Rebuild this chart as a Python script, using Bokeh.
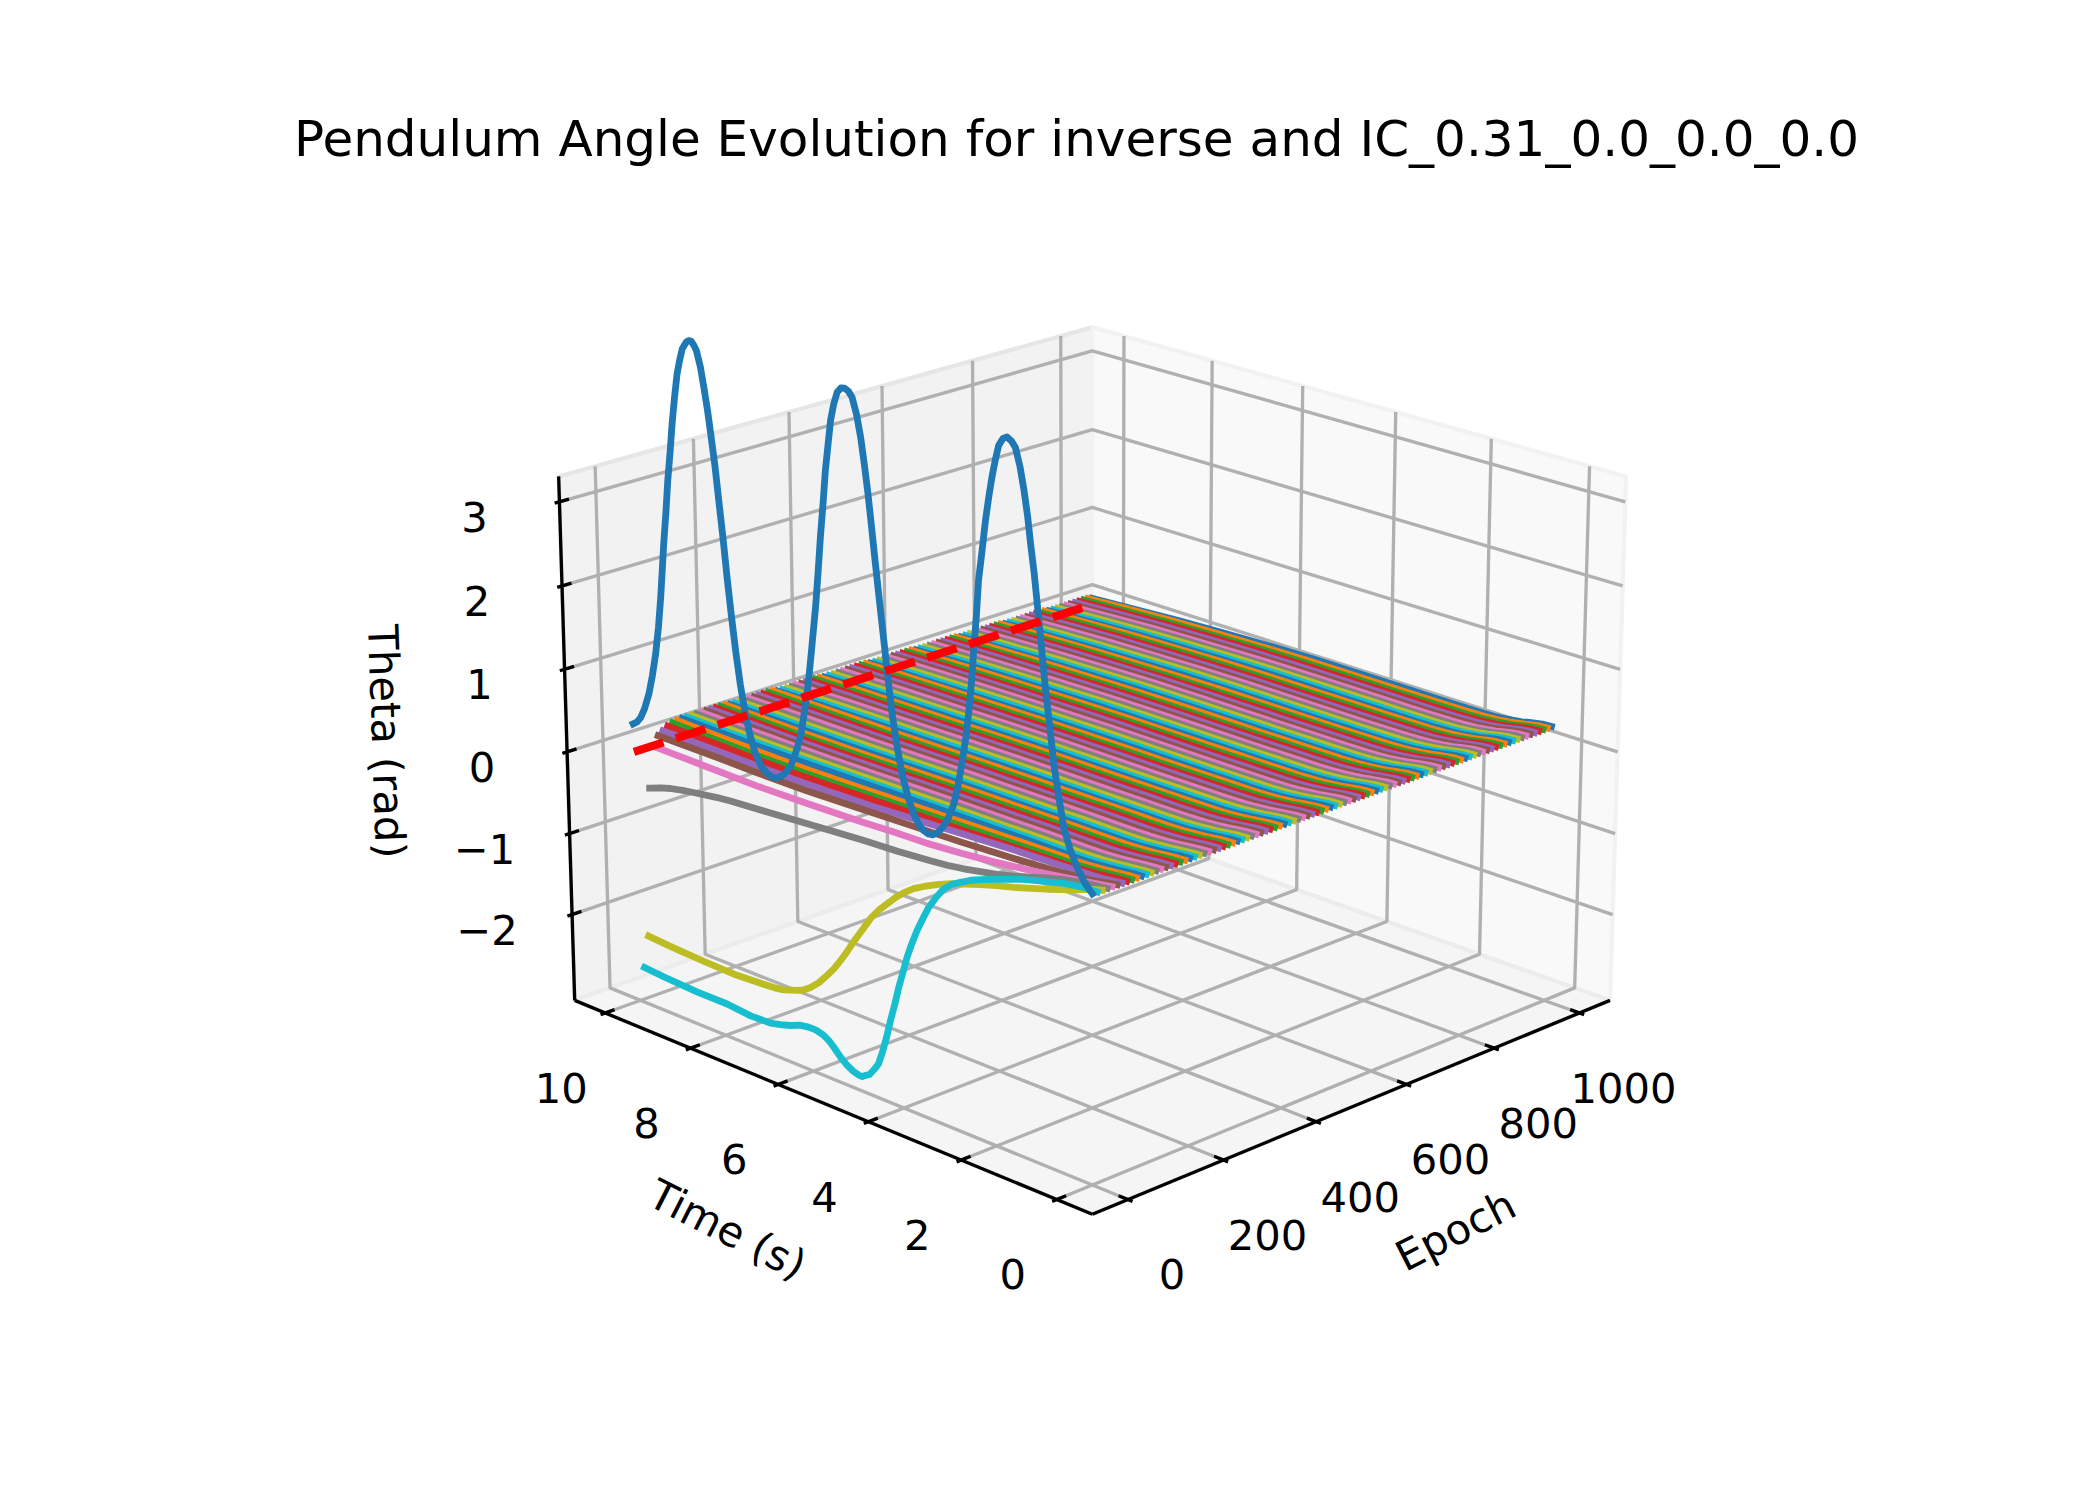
import math
from bokeh.plotting import figure
from bokeh.embed import file_html
from bokeh.resources import INLINE
from bokeh.models import Range1d
from bokeh.core.properties import value

TITLE = "Pendulum Angle Evolution for inverse and IC_0.31_0.0_0.0_0.0"
epoch_ticks = [0, 200, 400, 600, 800, 1000]
time_ticks = [0, 2, 4, 6, 8, 10]
theta_ticks = [-2, -1, 0, 1, 2, 3]
theta_tick_labels = ["\u22122", "\u22121", "0", "1", "2", "3"]
tab10 = ["#1f77b4", "#ff7f0e", "#2ca02c", "#d62728", "#9467bd",
         "#8c564b", "#e377c2", "#7f7f7f", "#bcbd22", "#17becf"]

# epoch 0
t_e0 = [10.0, 9.91, 9.82, 9.72, 9.61, 9.52, 9.43, 9.35, 9.28, 9.23, 9.18, 9.11, 9.05, 8.98, 8.92, 8.85,
        8.78, 8.71, 8.65, 8.56, 8.50, 8.44, 8.38, 8.33, 8.25, 8.18, 8.11, 8.05, 7.97, 7.90, 7.82, 7.75,
        7.67, 7.59, 7.50, 7.40, 7.30, 7.19, 7.06, 6.93, 6.82, 6.71, 6.56, 6.41, 6.29, 6.17, 6.07, 5.97,
        5.88, 5.79, 5.72, 5.66, 5.59, 5.53, 5.46, 5.40, 5.33, 5.25, 5.17, 5.09, 5.01, 4.93, 4.84, 4.76,
        4.69, 4.62, 4.55, 4.48, 4.40, 4.32, 4.24, 4.16, 4.06, 3.96, 3.84, 3.72, 3.61, 3.51, 3.41, 3.31,
        3.19, 3.08, 2.97, 2.86, 2.77, 2.68, 2.60, 2.53, 2.47, 2.42, 2.36, 2.31, 2.23, 2.16, 2.09, 2.02,
        1.95, 1.88, 1.79, 1.71, 1.62, 1.54, 1.45, 1.37, 1.30, 1.24, 1.17, 1.11, 1.03, 0.95, 0.86, 0.78,
        0.68, 0.58, 0.45, 0.31, 0.15, 0.0]
th_e0 = [0.34, 0.38, 0.45, 0.58, 0.78, 1.01, 1.29, 1.62, 1.99, 2.31, 2.64, 3.03, 3.41, 3.76, 4.09, 4.41,
         4.69, 4.87, 5.00, 5.09, 5.12, 5.12, 5.08, 5.03, 4.86, 4.63, 4.38, 4.12, 3.76, 3.37, 2.93, 2.50,
         2.06, 1.66, 1.28, 0.95, 0.71, 0.52, 0.39, 0.33, 0.31, 0.32, 0.39, 0.51, 0.69, 0.91, 1.24, 1.61,
         2.05, 2.50, 2.93, 3.33, 3.73, 4.11, 4.43, 4.70, 4.89, 5.04, 5.10, 5.11, 5.09, 5.03, 4.85, 4.61,
         4.32, 4.00, 3.62, 3.23, 2.80, 2.38, 1.96, 1.56, 1.20, 0.90, 0.66, 0.48, 0.38, 0.33, 0.31, 0.32,
         0.38, 0.47, 0.60, 0.77, 1.00, 1.28, 1.58, 1.90, 2.25, 2.61, 3.01, 3.42, 3.78, 4.11, 4.38, 4.62,
         4.82, 4.99, 5.08, 5.11, 5.08, 5.02, 4.83, 4.58, 4.31, 4.01, 3.70, 3.37, 2.92, 2.46, 2.03, 1.63,
         1.27, 0.95, 0.72, 0.55, 0.40, 0.31]
# epoch 10
t_e10 = [10.0, 9.55, 8.77, 8.07, 7.53, 7.08, 6.85, 6.62, 6.41, 6.21, 6.05, 5.90, 5.77, 5.65, 5.50, 5.35,
         5.22, 5.10, 5.02, 4.95, 4.86, 4.76, 4.66, 4.57, 4.47, 4.38, 4.28, 4.19, 4.09, 4.00, 3.89, 3.78,
         3.65, 3.52, 3.36, 3.20, 3.02, 2.84, 2.62, 2.41, 2.13, 1.85, 1.54, 1.23, 0.95, 0.68, 0.35, 0.0]
th_e10 = [-2.68, -2.70, -2.72, -2.72, -2.75, -2.74, -2.71, -2.67, -2.62, -2.60, -2.60, -2.62, -2.66, -2.72, -2.81, -2.88,
          -2.92, -2.94, -2.94, -2.91, -2.88, -2.80, -2.71, -2.55, -2.34, -2.12, -1.90, -1.68, -1.47, -1.28, -1.09, -0.92,
          -0.75, -0.59, -0.44, -0.31, -0.22, -0.16, -0.09, -0.04, 0.02, 0.08, 0.14, 0.19, 0.23, 0.27, 0.30, 0.31]
# epoch 20
t_e20 = [10.0, 9.49, 8.71, 7.94, 7.33, 7.08, 6.87, 6.72, 6.56, 6.41, 6.26, 6.07, 5.88, 5.73, 5.58, 5.43,
         5.28, 5.09, 4.90, 4.71, 4.53, 4.35, 4.16, 3.95, 3.73, 3.45, 3.16, 2.84, 2.52, 2.17, 1.82, 1.47,
         1.13, 0.82, 0.51, 0.25, 0.0]
th_e20 = [-2.31, -2.33, -2.35, -2.36, -2.34, -2.33, -2.31, -2.28, -2.25, -2.21, -2.15, -2.05, -1.92, -1.81, -1.68, -1.54,
          -1.39, -1.21, -1.03, -0.89, -0.78, -0.67, -0.57, -0.48, -0.41, -0.33, -0.26, -0.20, -0.14, -0.08, -0.03, 0.03,
          0.09, 0.15, 0.21, 0.27, 0.31]
# epoch 30
t_e30 = [10.0, 9.75, 9.51, 9.15, 8.81, 8.45, 8.12, 7.36, 6.61, 5.87, 5.13, 4.40, 3.69, 3.33, 2.98, 2.62,
         2.27, 1.92, 1.57, 1.23, 0.89, 0.45, 0.0]
th_e30 = [-0.50, -0.45, -0.41, -0.37, -0.34, -0.31, -0.29, -0.26, -0.23, -0.20, -0.17, -0.15, -0.12, -0.10, -0.07, -0.03,
          0.01, 0.06, 0.12, 0.18, 0.23, 0.28, 0.31]
# epoch 40
t_e40 = [10.0, 8.75, 7.61, 6.49, 5.31, 4.58, 3.86, 3.15, 2.44, 1.74, 1.05, 0.51, 0.0]
th_e40 = [-0.01, -0.02, -0.03, -0.02, 0.00, 0.02, 0.03, 0.06, 0.10, 0.15, 0.21, 0.26, 0.31]
# epoch 50
t_e50 = [10.0, 8.86, 7.72, 6.59, 5.41, 4.32, 3.25, 2.19, 1.15, 0.48, 0.0]
th_e50 = [0.10, 0.10, 0.09, 0.09, 0.11, 0.13, 0.15, 0.18, 0.22, 0.26, 0.31]
# epoch 60
t_e60 = [10.0, 8.97, 7.83, 6.70, 5.23, 3.35, 2.30, 1.26, 0.43, 0.0]
th_e60 = [0.14, 0.14, 0.13, 0.13, 0.15, 0.21, 0.24, 0.26, 0.28, 0.31]

# later epochs, on a shared time grid
t_late = [0, .15, .3, .45, .6, .8, 1.0, 1.2, 1.5, 1.9, 2.4, 3, 4, 5, 6, 7, 8, 9, 10]
th_e70 = [.310, .305, .295, .285, .275, .265, .257, .250, .245, .240, .232, .220, .205, .190, .175, .165, .168, .178, .180]
th_e80 = [.310, .305, .295, .285, .275, .265, .257, .250, .247, .243, .237, .226, .212, .198, .183, .173, .176, .186, .200]
th_e90 = [.310, .305, .295, .285, .275, .265, .257, .252, .250, .247, .242, .232, .220, .208, .195, .185, .188, .198, .210]
# one row per 100 epochs, from 100 to 1000
th_late = [
    [.310, .305, .295, .285, .275, .265, .257, .252, .250, .250, .250, .245, .240, .232, .222, .213, .210, .212, .215],
    [.310, .305, .295, .284, .273, .262, .253, .248, .245, .245, .245, .240, .235, .230, .220, .211, .207, .205, .200],
    [.310, .305, .294, .282, .270, .258, .248, .242, .238, .236, .235, .232, .230, .226, .218, .208, .200, .192, .180],
    [.310, .305, .294, .281, .268, .255, .244, .237, .232, .230, .228, .225, .224, .222, .214, .204, .195, .183, .170],
    [.310, .305, .293, .279, .265, .251, .239, .232, .226, .224, .222, .220, .219, .218, .210, .199, .188, .172, .155],
    [.310, .305, .292, .278, .262, .247, .235, .227, .220, .218, .216, .214, .213, .212, .206, .194, .180, .162, .140],
    [.310, .305, .292, .276, .259, .243, .230, .221, .215, .212, .210, .208, .207, .207, .201, .188, .172, .150, .125],
    [.310, .305, .291, .274, .256, .239, .225, .216, .209, .206, .204, .203, .203, .203, .196, .182, .165, .140, .110],
    [.310, .305, .291, .272, .253, .235, .220, .211, .204, .200, .199, .199, .199, .199, .191, .176, .157, .128, .095],
    [.310, .305, .290, .272, .252, .234, .220, .208, .204, .203, .203, .204, .206, .206, .195, .175, .150, .115, .080],
]
epochs = list(range(0, 1001, 10))
target_epochs = [0, 1000]
target_time = [10, 10]
target_theta = [0, 0]

# Matplotlib-style perspective view: elevation 20, azimuth 225
xl = (-50 - 1100 / 48, 1050 + 1100 / 48)
yl = (-.5 - 11 / 48, 10.5 + 11 / 48)
zl = (-3.07, 3.30)
f = 1.8294640721620434 * 25 / 24 / math.sqrt(41)
A = (4 * f, 4 * f, 3 * f)
R = [a / 2 for a in A]
el, az = math.radians(20), math.radians(225)
w = (math.cos(el) * math.cos(az), math.cos(el) * math.sin(az), math.sin(el))
n = math.hypot(w[0], w[1])
u = (-w[1] / n, w[0] / n, 0)
v = (w[1] * u[2] - w[2] * u[1], w[2] * u[0] - w[0] * u[2], w[0] * u[1] - w[1] * u[0])

def proj(e, t, z):
    q = [A[0] * (e - xl[0]) / (xl[1] - xl[0]) - R[0],
         A[1] * (t - yl[0]) / (yl[1] - yl[0]) - R[1],
         A[2] * (z - zl[0]) / (zl[1] - zl[0]) - R[2]]
    d = 10 - sum(a * b for a, b in zip(w, q))
    X = sum(a * b for a, b in zip(u, q)) / d
    Y = sum(a * b for a, b in zip(v, q)) / d
    return 498.75 + (X + .095) / .185 * 1155, 1335 - (Y + .095) / .185 * 1155

def seg(pts):
    P = [proj(*q) for q in pts]
    return [a for a, _ in P], [b for _, b in P]

p = figure(width=2092, height=1492, x_range=Range1d(0, 2092), y_range=Range1d(1492, 0),
           output_backend="svg", toolbar_location=None, min_border=0,
           outline_line_color=None, background_fill_color="white", border_fill_color="white")
p.axis.visible = False
p.grid.visible = False

x0, x1, y0, y1, z0, z1 = xl[0], xl[1], yl[0], yl[1], zl[0], zl[1]
panes = [
    ([(x0, y1, z0), (x1, y1, z0), (x1, y1, z1), (x0, y1, z1)], "#f2f2f2", "#e6e6e6"),
    ([(x1, y0, z0), (x1, y1, z0), (x1, y1, z1), (x1, y0, z1)], "#f9f9f9", "#f2f2f2"),
    ([(x0, y0, z0), (x1, y0, z0), (x1, y1, z0), (x0, y1, z0)], "#f5f5f5", "#ececec"),
]
for pts, fc, lc in panes:
    a, b = seg(pts)
    p.patch(a, b, fill_color=fc, line_color=lc, line_width=4.2)

GRID = dict(line_color="#b0b0b0", line_width=3.33)
for e in epoch_ticks:
    a, b = seg([(e, y0, z0), (e, y1, z0), (e, y1, z1)])
    p.line(a, b, **GRID)
for t in time_ticks:
    a, b = seg([(x0, t, z0), (x1, t, z0), (x1, t, z1)])
    p.line(a, b, **GRID)
for z in theta_ticks:
    a, b = seg([(x0, y1, z), (x1, y1, z), (x1, y0, z)])
    p.line(a, b, **GRID)

AX = dict(line_color="black", line_width=3.33)
for pts in ([(x0, y0, z0), (x1, y0, z0)], [(x0, y0, z0), (x0, y1, z0)], [(x0, y1, z0), (x0, y1, z1)]):
    a, b = seg(pts)
    p.line(a, b, **AX)
dx, dy = (x1 - x0) / 12, (y1 - y0) / 12
for e in epoch_ticks:
    a, b = seg([(e, y0 + .2 * dy, z0), (e, y0 - .1 * dy, z0)])
    p.line(a, b, **AX)
for t in time_ticks:
    a, b = seg([(x0 + .2 * dx, t, z0), (x0 - .1 * dx, t, z0)])
    p.line(a, b, **AX)
for z in theta_ticks:
    a, b = seg([(x0 + .2 * dx, y1, z), (x0 - .1 * dx, y1, z)])
    p.line(a, b, **AX)

def curve(k):
    e = epochs[k]
    if k <= 6:
        T = [t_e0, t_e10, t_e20, t_e30, t_e40, t_e50, t_e60][k]
        H = [th_e0, th_e10, th_e20, th_e30, th_e40, th_e50, th_e60][k]
    elif k <= 9:
        T, H = t_late, [th_e70, th_e80, th_e90][k - 7]
    else:
        T, H = t_late, th_late[min(k // 10, 10) - 1]
    return [proj(e, t, z) for t, z in zip(T, H)]

n_lines = len(epochs)
for i, k in enumerate(reversed(range(n_lines))):
    P = curve(k)
    p.line([a for a, _ in P], [b for _, b in P], line_color=tab10[i % 10], line_width=6.8,
           line_cap="square", line_join="round")

P = [proj(e, t, z) for e, t, z in zip(target_epochs, target_time, target_theta)]
p.line([a for a, _ in P], [b for _, b in P], line_color="red", line_width=8.33, line_dash="31 13")

FONT = value("DejaVu Sans")
def label(x, y, s, size=41.67, angle=0):
    p.text([x], [y], text=[s], text_font=FONT, text_font_size=f"{size}px", text_color="black",
           text_align="center", text_baseline="middle", angle=math.radians(angle))

label(1076, 138, TITLE, 50)
for e in epoch_ticks:
    a, b = proj(e, y0, z0)
    label(a + 44, b + 75, str(e))
for t in time_ticks:
    a, b = proj(x0, t, z0)
    label(a - 44, b + 75, str(t))
for z, s in zip(theta_ticks, theta_tick_labels):
    a, b = proj(x0, y1, z)
    label(a - 85, b + 15, s)
label(1455, 1230, "Epoch", angle=27)
label(727, 1229, "Time (s)", angle=-27)
label(386, 741, "Theta (rad)", angle=-88)

open("out.html", "w").write(file_html(p, INLINE))
